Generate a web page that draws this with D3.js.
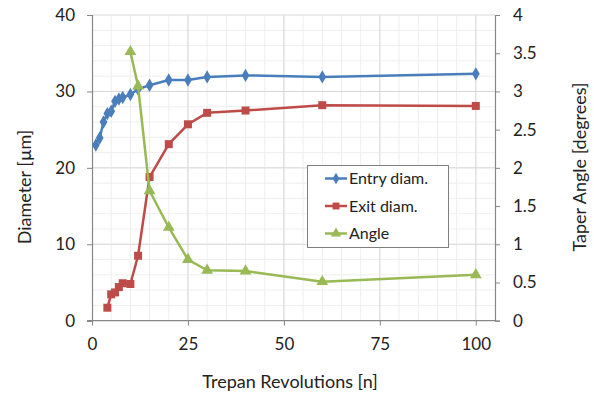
<!DOCTYPE html>
<html>
<head>
<meta charset="utf-8">
<script src="https://cdn.jsdelivr.net/npm/d3@7"></script>
<style>
  body { margin: 0; background: #fff; }
  svg text { font-family: Lato, "Open Sans", sans-serif; fill: #222; }
</style>
</head>
<body>
<div id="chart"></div>
<script>
// values
const entryX = [1, 2, 3, 4, 5, 6, 7, 8, 10, 12, 15, 20, 25, 30, 40, 60, 100];
const entryY = [23.0, 23.9, 26.0, 27.1, 27.4, 28.7, 29.0, 29.2, 29.6, 30.3, 30.8, 31.5, 31.5, 31.9, 32.1, 31.9, 32.3];
const exitX = [4, 5, 6, 7, 8, 10, 12, 15, 20, 25, 30, 40, 60, 100];
const exitY = [1.7, 3.45, 3.7, 4.4, 4.9, 4.8, 8.5, 18.8, 23.1, 25.7, 27.2, 27.5, 28.2, 28.1];
const angleX = [10, 12, 15, 20, 25, 30, 40, 60, 100];
const angleY = [3.52, 3.07, 1.70, 1.22, 0.80, 0.66, 0.65, 0.51, 0.60];
const xTicks = [0, 25, 50, 75, 100];
const yTicks = [0, 10, 20, 30, 40];
const y2Ticks = [0, 0.5, 1, 1.5, 2, 2.5, 3, 3.5, 4];
const seriesNames = ["Entry diam.", "Exit diam.", "Angle"];

const width = 594, height = 396;
const svg = d3.select("#chart").append("svg")
    .attr("width", width)
    .attr("height", height);

// plot area
const plotL = 92, plotR = 495, plotT = 15, plotB = 320.7;

const x = d3.scaleLinear().domain([0, 105]).range([plotL, plotR]);
const y = d3.scaleLinear().domain([0, 40]).range([plotB, plotT]);
const y2 = d3.scaleLinear().domain([0, 4]).range([plotB, plotT]);

// minor grid
const grid = svg.append("g");
grid.selectAll(".vminor")
    .data(d3.range(5, 105, 5))
    .join("line")
    .attr("x1", d => x(d)).attr("x2", d => x(d))
    .attr("y1", plotT).attr("y2", plotB)
    .attr("stroke", "#efefef").attr("stroke-width", 1);
grid.selectAll(".hminor")
    .data(d3.range(2, 40, 2))
    .join("line")
    .attr("x1", plotL).attr("x2", plotR)
    .attr("y1", d => y(d)).attr("y2", d => y(d))
    .attr("stroke", "#efefef").attr("stroke-width", 1);
// major grid
grid.selectAll(".vmajor")
    .data(xTicks.slice(1))
    .join("line")
    .attr("x1", d => x(d)).attr("x2", d => x(d))
    .attr("y1", plotT).attr("y2", plotB)
    .attr("stroke", "#d9d9d9").attr("stroke-width", 1);
grid.selectAll(".hmajor")
    .data(yTicks.slice(1))
    .join("line")
    .attr("x1", plotL).attr("x2", plotR)
    .attr("y1", d => y(d)).attr("y2", d => y(d))
    .attr("stroke", "#d9d9d9").attr("stroke-width", 1);

// axes
const axisColor = "#868686";
const xAxis = svg.append("g")
    .attr("transform", `translate(0,${plotB})`)
    .call(d3.axisBottom(x).tickValues(xTicks).tickSize(5).tickPadding(12));
const yAxis = svg.append("g")
    .attr("transform", `translate(${plotL},0)`)
    .call(d3.axisLeft(y).tickValues(yTicks).tickSize(5).tickPadding(12));
const y2Axis = svg.append("g")
    .attr("transform", `translate(${plotR},0)`)
    .call(d3.axisRight(y2).tickValues(y2Ticks).tickFormat(d3.format("~g")).tickSize(5).tickPadding(13));

[xAxis, yAxis, y2Axis].forEach(a => {
    a.select(".domain").attr("stroke", axisColor).attr("stroke-width", 1.2);
    a.selectAll(".tick line").attr("stroke", axisColor);
    a.selectAll(".tick text").attr("font-size", 17).attr("fill", "#222");
});
xAxis.select(".domain").attr("d", `M${plotL - 5},0H${plotR}`);

// series
const series = [
    { name: seriesNames[0], xs: entryX, ys: entryY, scale: y, color: "#4a7ebb", marker: d3.symbolDiamond, size: 52 },
    { name: seriesNames[1], xs: exitX, ys: exitY, scale: y, color: "#be4b48", marker: d3.symbolSquare, size: 64 },
    { name: seriesNames[2], xs: angleX, ys: angleY, scale: y2, color: "#98b954", marker: d3.symbolTriangle, size: 60 }
];

series.forEach(s => {
    const pts = s.xs.map((v, j) => [x(v), s.scale(s.ys[j])]);
    const g = svg.append("g");
    g.append("path")
        .attr("d", d3.line()(pts))
        .attr("fill", "none")
        .attr("stroke", s.color)
        .attr("stroke-width", 2.5)
        .attr("stroke-linejoin", "round");
    g.selectAll("path.m")
        .data(pts)
        .join("path")
        .attr("class", "m")
        .attr("transform", d => `translate(${d[0]},${d[1]})`)
        .attr("d", d3.symbol().type(s.marker).size(s.size))
        .attr("fill", s.color);
});

// legend
const legend = svg.append("g");
legend.append("rect")
    .attr("x", 307.5).attr("y", 165.5)
    .attr("width", 141).attr("height", 82)
    .attr("fill", "#fff")
    .attr("stroke", "#7f7f7f").attr("stroke-width", 1);
series.forEach((s, i) => {
    const ly = 178.5 + i * 27.5;
    legend.append("line")
        .attr("x1", 325).attr("x2", 347)
        .attr("y1", ly).attr("y2", ly)
        .attr("stroke", s.color).attr("stroke-width", 2.5);
    legend.append("path")
        .attr("transform", `translate(336,${ly})`)
        .attr("d", d3.symbol().type(s.marker).size(s.size * 0.75))
        .attr("fill", s.color);
    legend.append("text")
        .attr("x", 349).attr("y", ly)
        .attr("dy", "0.35em")
        .attr("font-size", 16)
        .text(s.name);
});

// axis titles
svg.append("text")
    .attr("transform", `translate(31,187) rotate(-90)`)
    .attr("text-anchor", "middle")
    .attr("font-size", 18)
    .text("Diameter [µm]");
svg.append("text")
    .attr("transform", `translate(586,167) rotate(-90)`)
    .attr("text-anchor", "middle")
    .attr("font-size", 18)
    .text("Taper Angle [degrees]");
svg.append("text")
    .attr("x", 290).attr("y", 388)
    .attr("text-anchor", "middle")
    .attr("font-size", 18)
    .text("Trepan Revolutions [n]");
</script>
</body>
</html>
